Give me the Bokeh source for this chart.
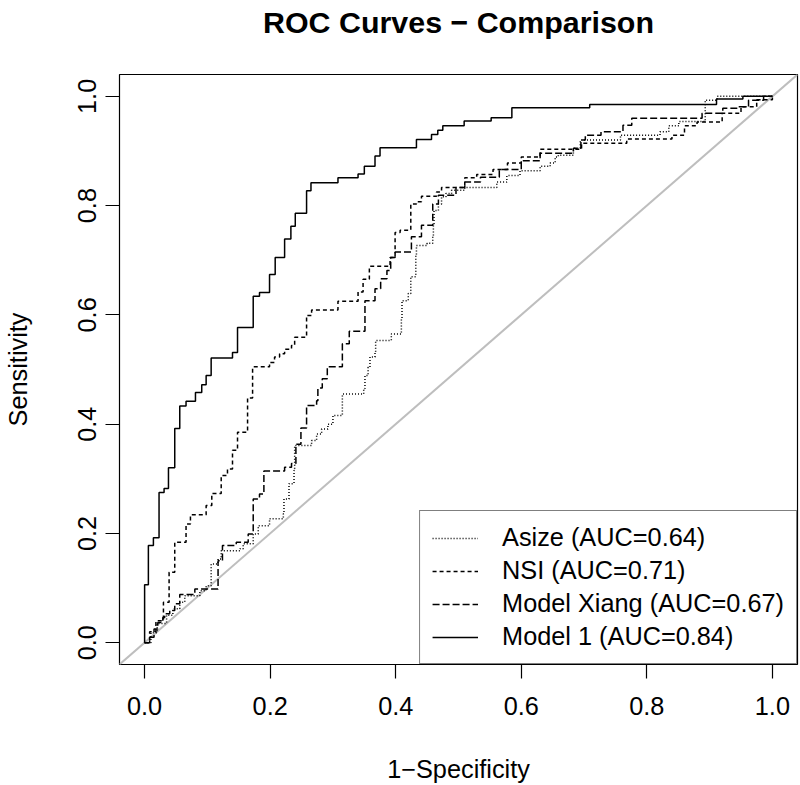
from bokeh.plotting import figure
from bokeh.models import (Range1d, Slope, Legend, LegendItem, FixedTicker, PrintfTickFormatter,
                          LinearAxis)
from bokeh.embed import file_html
from bokeh.resources import INLINE

FONT = "Liberation Sans"

# ---- data (false positive rate = 1-specificity, true positive rate = sensitivity) ----
model1_fpr = [0.0, 0.0, 0.006, 0.014, 0.023, 0.031, 0.038, 0.048, 0.056, 0.066,
              0.081, 0.091, 0.098, 0.106, 0.140, 0.148, 0.173, 0.183, 0.199, 0.208,
              0.223, 0.233, 0.240, 0.258, 0.265, 0.308, 0.340, 0.350, 0.367, 0.375,
              0.433, 0.457, 0.467, 0.475, 0.509, 0.552, 0.585, 0.709, 0.911, 0.953, 1.0]
model1_tpr = [0.0, 0.106, 0.178, 0.192, 0.275, 0.282, 0.320, 0.392, 0.433, 0.442,
              0.458, 0.472, 0.489, 0.521, 0.531, 0.577, 0.634, 0.641, 0.674, 0.705,
              0.739, 0.762, 0.786, 0.827, 0.842, 0.851, 0.858, 0.872, 0.891, 0.906,
              0.921, 0.930, 0.938, 0.946, 0.955, 0.961, 0.979, 0.985, 0.995, 1.0, 1.0]

nsi_fpr = [0.0, 0.008, 0.018, 0.030, 0.039, 0.048, 0.066, 0.073, 0.098, 0.107,
           0.122, 0.132, 0.140, 0.148, 0.164, 0.172, 0.199, 0.207, 0.215, 0.223,
           0.234, 0.239, 0.258, 0.266, 0.308, 0.340, 0.348, 0.358, 0.391, 0.399,
           0.407, 0.424, 0.433, 0.441, 0.465, 0.473, 0.510, 0.529, 0.555, 0.578,
           0.600, 0.630, 0.696, 0.768, 0.840, 0.860, 0.880, 0.920, 0.950, 0.975, 1.0]
nsi_tpr = [0.0, 0.020, 0.040, 0.074, 0.129, 0.184, 0.217, 0.234, 0.251, 0.273,
           0.306, 0.318, 0.352, 0.385, 0.448, 0.505, 0.513, 0.523, 0.529, 0.537,
           0.544, 0.559, 0.599, 0.609, 0.625, 0.642, 0.665, 0.689, 0.705, 0.751,
           0.755, 0.803, 0.807, 0.817, 0.825, 0.833, 0.851, 0.857, 0.866, 0.878,
           0.889, 0.903, 0.914, 0.922, 0.929, 0.946, 0.953, 0.969, 0.981, 0.994, 1.0]

xiang_fpr = [0.0, 0.008, 0.015, 0.021, 0.029, 0.032, 0.040, 0.048, 0.056, 0.080,
             0.117, 0.124, 0.146, 0.165, 0.173, 0.183, 0.190, 0.223, 0.234, 0.241,
             0.249, 0.258, 0.274, 0.276, 0.283, 0.291, 0.315, 0.326, 0.351, 0.367,
             0.376, 0.386, 0.392, 0.399, 0.425, 0.441, 0.459, 0.468, 0.496, 0.510,
             0.535, 0.565, 0.600, 0.630, 0.683, 0.695, 0.702, 0.727, 0.762, 0.776,
             0.888, 0.921, 0.946, 0.962, 0.986, 1.0]
xiang_tpr = [0.0, 0.010, 0.025, 0.037, 0.046, 0.053, 0.059, 0.071, 0.088, 0.098,
             0.150, 0.178, 0.184, 0.199, 0.263, 0.272, 0.314, 0.321, 0.328, 0.363,
             0.393, 0.434, 0.443, 0.466, 0.483, 0.505, 0.547, 0.570, 0.626, 0.648,
             0.666, 0.681, 0.705, 0.715, 0.743, 0.764, 0.803, 0.819, 0.833, 0.843,
             0.852, 0.866, 0.882, 0.896, 0.905, 0.920, 0.929, 0.935, 0.947, 0.960,
             0.969, 0.978, 0.981, 0.993, 1.0, 1.0]

asize_fpr = [0.0, 0.010, 0.020, 0.035, 0.045, 0.056, 0.064, 0.088, 0.098, 0.106,
             0.117, 0.122, 0.152, 0.157, 0.173, 0.181, 0.199, 0.221, 0.222, 0.230,
             0.238, 0.239, 0.266, 0.274, 0.282, 0.292, 0.300, 0.315, 0.349, 0.351,
             0.356, 0.359, 0.367, 0.368, 0.393, 0.409, 0.410, 0.420, 0.424, 0.432,
             0.433, 0.450, 0.459, 0.460, 0.461, 0.468, 0.473, 0.480, 0.489, 0.510,
             0.561, 0.577, 0.598, 0.630, 0.646, 0.654, 0.659, 0.683, 0.694, 0.758,
             0.821, 0.835, 0.851, 0.893, 0.912, 1.0]
asize_tpr = [0.0, 0.018, 0.035, 0.050, 0.062, 0.074, 0.086, 0.095, 0.104, 0.144,
             0.153, 0.168, 0.172, 0.181, 0.199, 0.214, 0.227, 0.236, 0.263, 0.291,
             0.315, 0.361, 0.370, 0.382, 0.391, 0.400, 0.416, 0.455, 0.465, 0.489,
             0.504, 0.523, 0.532, 0.553, 0.565, 0.593, 0.626, 0.639, 0.670, 0.709,
             0.727, 0.731, 0.742, 0.767, 0.791, 0.803, 0.816, 0.822, 0.828, 0.833,
             0.843, 0.855, 0.864, 0.872, 0.878, 0.889, 0.892, 0.905, 0.920, 0.929,
             0.935, 0.946, 0.954, 0.993, 1.0, 1.0]

title_text = "ROC Curves \u2212 Comparison"
legend_labels = ["Asize (AUC=0.64)", "NSI (AUC=0.71)", "Model Xiang (AUC=0.67)", "Model 1 (AUC=0.84)"]
tick_values = [0.0, 0.2, 0.4, 0.6, 0.8, 1.0]

# ---- figure ----
p = figure(width=800, height=785,
           x_range=Range1d(-0.04, 1.04), y_range=Range1d(-0.04, 1.04),
           output_backend="svg", toolbar_location=None,
           min_border_left=119, min_border_right=3, min_border_top=74, min_border_bottom=121)
p.styles = {"position": "absolute", "left": "0px", "top": "0px"}

p.background_fill_color = "white"
p.border_fill_color = "white"
p.grid.visible = False
p.outline_line_color = "black"
p.outline_line_width = 1.2

xax = p.xaxis[0]
yax = p.yaxis[0]
for ax in (xax, yax):
    ax.ticker = FixedTicker(ticks=tick_values)
    ax.formatter = PrintfTickFormatter(format="%.1f")
    ax.major_tick_in = 0
    ax.major_tick_out = 14
    ax.minor_tick_line_color = None
    ax.axis_line_color = None
    ax.major_tick_line_color = "black"
    ax.major_tick_line_width = 1.2
    ax.major_label_text_font = FONT
    ax.major_label_text_font_size = "25.3px"
    ax.major_label_text_color = "black"
    ax.axis_label_text_font = FONT
    ax.axis_label_text_font_size = "25.3px"
    ax.axis_label_text_font_style = "normal"
    ax.axis_label_text_color = "black"

xax.axis_label = "1\u2212Specificity"
yax.axis_label = "Sensitivity"
xax.major_label_standoff = 18
xax.axis_label_standoff = 37
yax.major_label_standoff = 9
yax.axis_label_standoff = 44
yax.axis_label_text_line_height = 1.0
yax.major_label_orientation = "vertical"

# main title: label of a tick-less axis above the plotting region (keeps it centred on the box)
tax = LinearAxis(axis_label=title_text, ticker=FixedTicker(ticks=[]),
                 major_tick_in=0, major_tick_out=0, minor_tick_line_color=None,
                 axis_line_color=None, major_label_text_font_size="0px",
                 axis_label_text_font=FONT, axis_label_text_font_size="30.4px",
                 axis_label_text_font_style="bold", axis_label_text_color="black",
                 axis_label_text_line_height=1.0, axis_label_standoff=36)
p.add_layout(tax, "above")

# reference diagonal
p.add_layout(Slope(gradient=1, y_intercept=0, line_color="#bebebe", line_width=2, level="underlay"))

r_asize = p.step(asize_fpr, asize_tpr, mode="after", line_color="black", line_width=1.5, line_dash="1 2")
r_nsi = p.step(nsi_fpr, nsi_tpr, mode="after", line_color="black", line_width=1.5, line_dash="4 3")
r_xiang = p.step(xiang_fpr, xiang_tpr, mode="after", line_color="black", line_width=1.5, line_dash="7 3")
r_m1 = p.step(model1_fpr, model1_tpr, mode="after", line_color="black", line_width=1.5)

legend = Legend(items=[LegendItem(label=legend_labels[0], renderers=[r_asize]),
                       LegendItem(label=legend_labels[1], renderers=[r_nsi]),
                       LegendItem(label=legend_labels[2], renderers=[r_xiang]),
                       LegendItem(label=legend_labels[3], renderers=[r_m1])],
                location="bottom_right", margin=0, padding=12, spacing=4,
                glyph_width=46, glyph_height=20, label_standoff=24,
                label_width=0, label_height=29,
                label_text_font=FONT, label_text_font_size="25.3px", label_text_color="black",
                border_line_color="black", border_line_width=1.2,
                background_fill_color="white", background_fill_alpha=1.0)
p.add_layout(legend)

open("out.html", "w").write(file_html(p, INLINE))
